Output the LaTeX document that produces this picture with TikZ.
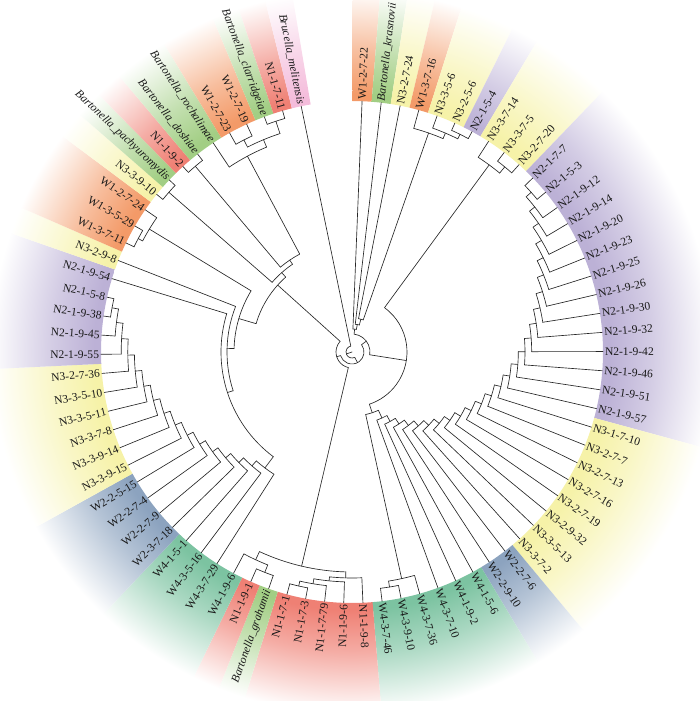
\documentclass[tikz,border=0pt]{standalone}
\usepackage{fontspec}
\setmainfont{Liberation Serif}
\definecolor{cO}{HTML}{F39A68}
\definecolor{cG}{HTML}{A2CE84}
\definecolor{cY}{HTML}{F6F2A8}
\definecolor{cP}{HTML}{BCB1D6}
\definecolor{cB}{HTML}{8CA3BF}
\definecolor{cT}{HTML}{7CC3A1}
\definecolor{cR}{HTML}{EF8074}
\definecolor{cK}{HTML}{F4BCDB}
\pgfdeclareradialshading{shO}{\pgfpointorigin}{color(0bp)=(cO); color(258bp)=(cO); color(300bp)=(cO!65!white); color(362bp)=(white)}
\pgfdeclareradialshading{shG}{\pgfpointorigin}{color(0bp)=(cG); color(258bp)=(cG); color(300bp)=(cG!65!white); color(362bp)=(white)}
\pgfdeclareradialshading{shY}{\pgfpointorigin}{color(0bp)=(cY); color(258bp)=(cY); color(300bp)=(cY!65!white); color(362bp)=(white)}
\pgfdeclareradialshading{shP}{\pgfpointorigin}{color(0bp)=(cP); color(258bp)=(cP); color(300bp)=(cP!65!white); color(362bp)=(white)}
\pgfdeclareradialshading{shB}{\pgfpointorigin}{color(0bp)=(cB); color(258bp)=(cB); color(300bp)=(cB!65!white); color(362bp)=(white)}
\pgfdeclareradialshading{shT}{\pgfpointorigin}{color(0bp)=(cT); color(258bp)=(cT); color(300bp)=(cT!65!white); color(362bp)=(white)}
\pgfdeclareradialshading{shR}{\pgfpointorigin}{color(0bp)=(cR); color(258bp)=(cR); color(300bp)=(cR!65!white); color(362bp)=(white)}
\pgfdeclareradialshading{shK}{\pgfpointorigin}{color(0bp)=(cK); color(258bp)=(cK); color(300bp)=(cK!65!white); color(362bp)=(white)}
\makeatletter
% coloured sector behind leaves #2..#3
\newcommand\sect[3]{%
  \pgfmathsetmacro\s@a{87.7-(#2-1)*4.38+2.19}%
  \pgfmathsetmacro\s@b{87.7-(#3-1)*4.38-2.19}%
  \begin{scope}
    \clip (\s@a:251) arc[start angle=\s@a, end angle=\s@b, radius=251] -- (\s@b:395) arc[start angle=\s@b, end angle=\s@a, radius=395] -- cycle;
    \pgftext{\pgfuseshading{sh#1}}%
  \end{scope}}
% leaf: name, index, side, text
\newcommand\tleaf[4]{%
  \pgfmathsetmacro\tl@a{87.7-(#2-1)*4.38}%
  \expandafter\xdef\csname ta@#1\endcsname{\tl@a}%
  \expandafter\xdef\csname tr@#1\endcsname{251}%
  \coordinate (#1) at (\tl@a:251);%
  \if#3R%
    \node[lab, rotate=\tl@a, anchor=west] (t#1) at (#1) {#4};%
  \else
    \pgfmathsetmacro\tl@b{\tl@a+180}%
    \node[lab, rotate=\tl@b, anchor=east] (t#1) at (#1) {#4};%
  \fi}
\newcommand\tj@do[4]{%
  \expandafter\xdef\csname ta@#1\endcsname{\tj@m}%
  \expandafter\xdef\csname tr@#1\endcsname{#2}%
  \coordinate (#1) at (\tj@m:#2);%
  \draw[branch] (\tj@a:#2) arc[start angle=\tj@a, end angle=\tj@b, radius=#2];%
  \draw[branch] (\tj@a:#2) -- (#3);%
  \draw[branch] (\tj@b:#2) -- (#4);}
\newcommand\tjoin[4]{%
  \edef\tj@a{\csname ta@#3\endcsname}%
  \edef\tj@b{\csname ta@#4\endcsname}%
  \pgfmathsetmacro\tj@m{(\tj@a)/2+(\tj@b)/2}%
  \tj@do{#1}{#2}{#3}{#4}}
\newcommand\tjoinat[5]{%
  \edef\tj@a{\csname ta@#3\endcsname}%
  \edef\tj@b{\csname ta@#4\endcsname}%
  \def\tj@m{#5}%
  \tj@do{#1}{#2}{#3}{#4}}
\makeatother
\begin{document}
\begin{tikzpicture}[x=1bp,y=1bp,
  branch/.style={line width=0.65bp, line cap=round, black!85},
  lab/.style={font=\fontsize{11.6}{13}\selectfont, inner sep=1.8bp, text=black!90}]
\useasboundingbox (-352,-349) rectangle (348,352);
% ---- coloured bands
\sect{O}{1}{1}\sect{G}{2}{2}\sect{Y}{3}{3}\sect{O}{4}{4}\sect{Y}{5}{6}\sect{P}{7}{7}
\sect{Y}{8}{10}\sect{P}{11}{24}\sect{Y}{25}{32}\sect{B}{33}{34}\sect{T}{35}{40}
\sect{R}{41}{45}\sect{G}{46}{46}\sect{R}{47}{47}\sect{T}{48}{51}\sect{B}{52}{55}
\sect{Y}{56}{61}\sect{P}{62}{66}\sect{Y}{67}{67}\sect{O}{68}{70}\sect{Y}{71}{71}
\sect{G}{72}{72}\sect{R}{73}{73}\sect{G}{74}{75}\sect{O}{76}{77}\sect{G}{78}{78}
\sect{R}{79}{79}\sect{K}{80}{80}
% ---- leaves
\tleaf{l1}{1}{R}{W1-2-7-22}
\tleaf{l2}{2}{R}{\textit{Bartonella\_krasnovii}}
\tleaf{l3}{3}{R}{N3-2-7-24}
\tleaf{l4}{4}{R}{W1-3-7-16}
\tleaf{l5}{5}{R}{N3-3-5-6}
\tleaf{l6}{6}{R}{N3-2-5-6}
\tleaf{l7}{7}{R}{N2-1-5-4}
\tleaf{l8}{8}{R}{N3-3-7-14}
\tleaf{l9}{9}{R}{N3-3-7-5}
\tleaf{l10}{10}{R}{N3-2-7-20}
\tleaf{l11}{11}{R}{N2-1-7-7}
\tleaf{l12}{12}{R}{N2-1-5-3}
\tleaf{l13}{13}{R}{N2-1-9-12}
\tleaf{l14}{14}{R}{N2-1-9-14}
\tleaf{l15}{15}{R}{N2-1-9-20}
\tleaf{l16}{16}{R}{N2-1-9-23}
\tleaf{l17}{17}{R}{N2-1-9-25}
\tleaf{l18}{18}{R}{N2-1-9-26}
\tleaf{l19}{19}{R}{N2-1-9-30}
\tleaf{l20}{20}{R}{N2-1-9-32}
\tleaf{l21}{21}{R}{N2-1-9-42}
\tleaf{l22}{22}{R}{N2-1-9-46}
\tleaf{l23}{23}{R}{N2-1-9-51}
\tleaf{l24}{24}{R}{N2-1-9-57}
\tleaf{l25}{25}{R}{N3-1-7-10}
\tleaf{l26}{26}{R}{N3-2-7-7}
\tleaf{l27}{27}{R}{N3-2-7-13}
\tleaf{l28}{28}{R}{N3-2-7-16}
\tleaf{l29}{29}{R}{N3-2-7-19}
\tleaf{l30}{30}{R}{N3-2-9-32}
\tleaf{l31}{31}{R}{N3-3-5-13}
\tleaf{l32}{32}{R}{N3-3-7-2}
\tleaf{l33}{33}{R}{W2-2-7-6}
\tleaf{l34}{34}{R}{W2-2-9-10}
\tleaf{l35}{35}{R}{W4-1-5-6}
\tleaf{l36}{36}{R}{W4-1-9-2}
\tleaf{l37}{37}{R}{W4-3-7-10}
\tleaf{l38}{38}{R}{W4-3-7-36}
\tleaf{l39}{39}{R}{W4-3-9-10}
\tleaf{l40}{40}{R}{W4-3-7-46}
\tleaf{l41}{41}{R}{N1-1-9-8}
\tleaf{l42}{42}{L}{N1-1-9-6}
\tleaf{l43}{43}{L}{N1-1-7-79}
\tleaf{l44}{44}{L}{N1-1-7-3}
\tleaf{l45}{45}{L}{N1-1-7-1}
\tleaf{l46}{46}{L}{\textit{Bartonella\_grahamii}}
\tleaf{l47}{47}{L}{N1-1-9-1}
\tleaf{l48}{48}{L}{W4-1-9-6}
\tleaf{l49}{49}{L}{W4-3-7-29}
\tleaf{l50}{50}{L}{W4-3-5-16}
\tleaf{l51}{51}{L}{W4-1-5-1}
\tleaf{l52}{52}{L}{W2-3-7-18}
\tleaf{l53}{53}{L}{W2-2-7-9}
\tleaf{l54}{54}{L}{W2-2-7-4}
\tleaf{l55}{55}{L}{W2-2-5-15}
\tleaf{l56}{56}{L}{N3-3-9-15}
\tleaf{l57}{57}{L}{N3-3-9-14}
\tleaf{l58}{58}{L}{N3-3-7-8}
\tleaf{l59}{59}{L}{N3-3-5-11}
\tleaf{l60}{60}{L}{N3-3-5-10}
\tleaf{l61}{61}{L}{N3-2-7-36}
\tleaf{l62}{62}{L}{N2-1-9-55}
\tleaf{l63}{63}{L}{N2-1-9-45}
\tleaf{l64}{64}{L}{N2-1-9-38}
\tleaf{l65}{65}{L}{N2-1-5-8}
\tleaf{l66}{66}{L}{N2-1-9-54}
\tleaf{l67}{67}{L}{N3-2-9-8}
\tleaf{l68}{68}{L}{W1-3-7-11}
\tleaf{l69}{69}{L}{W1-3-5-29}
\tleaf{l70}{70}{L}{W1-2-7-24}
\tleaf{l71}{71}{L}{N3-3-9-10}
\tleaf{l72}{72}{L}{\textit{Bartonella\_pachyuromydis}}
\tleaf{l73}{73}{L}{N1-1-9-2}
\tleaf{l74}{74}{L}{\textit{Bartonella\_doshiae}}
\tleaf{l75}{75}{L}{\textit{Bartonella\_rochalimae}}
\tleaf{l76}{76}{L}{W1-2-7-23}
\tleaf{l77}{77}{L}{W1-2-7-19}
\tleaf{l78}{78}{L}{\textit{Bartonella\_clarridgeiae}}
\tleaf{l79}{79}{L}{N1-1-7-11}
\tleaf{l80}{80}{L}{\textit{Brucella\_melitensis}}
% ---- right part
\tjoin{n67}{243}{l6}{l7}
\tjoin{n57}{238}{l5}{n67}
\tjoin{n47}{232}{l4}{n57}
\tjoin{n910}{240}{l9}{l10}
\tjoin{n810}{232}{l8}{n910}
\tjoin{t3}{34}{l3}{n47}
\tjoin{t2}{28}{l2}{t3}
\tjoin{t1}{23}{l1}{t2}
\tjoin{c12}{240}{l11}{l12}
\foreach \k [remember=\k as \kp (initially 12)] in {13,...,37}{%
  \pgfmathsetmacro\rr{240-(\k-12)*6.7}\tjoin{c\k}{\rr}{c\kp}{l\k}}
\tjoin{w3940}{238}{l39}{l40}
\tjoin{w3840}{232}{l38}{w3940}
\tjoin{cbase}{64}{c37}{w3840}
\tjoin{rb5}{55}{n810}{cbase}
\tjoin{right}{18}{t1}{rb5}
% ---- N1 clade
\tjoin{a4647}{237}{l46}{l47}
\tjoin{a4648}{229}{a4647}{l48}
\tjoin{a4445}{240}{l44}{l45}
\tjoin{a4345}{235}{l43}{a4445}
\tjoin{a4245}{230}{l42}{a4345}
\tjoin{a4145}{226}{l41}{a4245}
\tjoin{n1}{220}{a4145}{a4648}
% ---- left part
\tjoin{d64}{244}{l64}{l65}
\foreach \k [remember=\k as \kp (initially 64)] in {63,62,...,49}{%
  \pgfmathsetmacro\rr{244-(64-\k)*6.6}\tjoin{d\k}{\rr}{l\k}{d\kp}}
\tjoin{Q3}{131}{l66}{d49}
\tjoin{Q2}{125}{l67}{Q3}
\tjoin{w6869}{242}{l68}{l69}
\tjoin{w6870}{237}{w6869}{l70}
\tjoin{Q1}{118}{w6870}{Q2}
\tjoin{TLa}{243}{l71}{l72}
\tjoin{TLb}{243}{l73}{l74}
\tjoin{TLc}{243}{l78}{l79}
\tjoin{TLd}{238}{l76}{l77}
\tjoin{TLe}{230}{TLd}{TLc}
\tjoin{TLf}{222}{l75}{TLe}
\tjoin{TLg}{111}{TLb}{TLf}
\tjoin{TLh}{106}{TLa}{TLg}
\tjoinat{L0}{100}{TLh}{Q1}{-222}
% ---- root
\tjoin{NL}{16}{n1}{L0}
\tjoin{X}{12}{right}{NL}
\tjoin{root}{6}{X}{l80}
\coordinate (ctr) at (0,0);
\draw[branch] (ctr) -- (root);
\end{tikzpicture}
\end{document}
